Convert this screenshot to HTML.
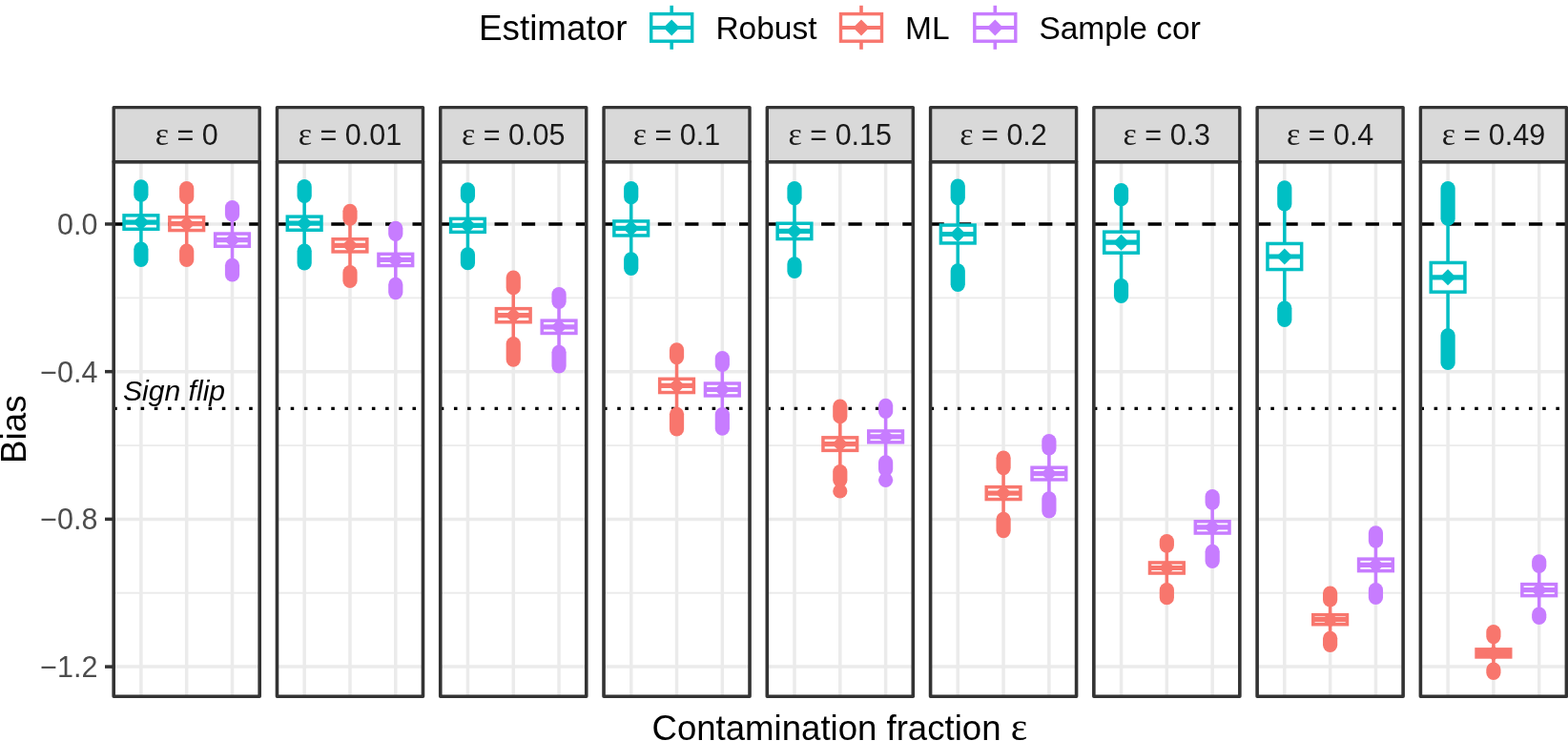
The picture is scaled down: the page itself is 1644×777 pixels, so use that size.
<!DOCTYPE html><html><head><meta charset="utf-8"><title>Bias by contamination fraction</title>
<style>html,body{margin:0;padding:0;background:#fff;}body{width:1644px;height:777px;overflow:hidden;}svg{display:block;}.sans{font-family:"Liberation Sans",Arial,sans-serif;}.serif{font-family:"Liberation Serif","Times New Roman",serif;}</style></head><body>
<svg width="1644" height="777" viewBox="0 0 1644 777">
<rect x="0" y="0" width="1644" height="777" fill="#fff"/>
<g><rect x="119.2" y="169.6" width="153" height="560.7" fill="#fff"/><line x1="119.2" x2="272.2" y1="312.31" y2="312.31" stroke="#EBEBEB" stroke-width="1.8"/><line x1="119.2" x2="272.2" y1="467.03" y2="467.03" stroke="#EBEBEB" stroke-width="1.8"/><line x1="119.2" x2="272.2" y1="621.75" y2="621.75" stroke="#EBEBEB" stroke-width="1.8"/><line x1="119.2" x2="272.2" y1="234.95" y2="234.95" stroke="#EBEBEB" stroke-width="3.5"/><line x1="119.2" x2="272.2" y1="389.67" y2="389.67" stroke="#EBEBEB" stroke-width="3.5"/><line x1="119.2" x2="272.2" y1="544.39" y2="544.39" stroke="#EBEBEB" stroke-width="3.5"/><line x1="119.2" x2="272.2" y1="699.11" y2="699.11" stroke="#EBEBEB" stroke-width="3.5"/><line x1="147.89" x2="147.89" y1="169.6" y2="730.3" stroke="#EBEBEB" stroke-width="3.5"/><line x1="195.7" x2="195.7" y1="169.6" y2="730.3" stroke="#EBEBEB" stroke-width="3.5"/><line x1="243.51" x2="243.51" y1="169.6" y2="730.3" stroke="#EBEBEB" stroke-width="3.5"/><line x1="119.2" x2="272.2" y1="234.95" y2="234.95" stroke="#000" stroke-width="3.55" stroke-dasharray="14.2 14.2"/><line x1="119.2" x2="272.2" y1="428.35" y2="428.35" stroke="#000" stroke-width="3.1" stroke-dasharray="3.55 10.65"/><text x="129" y="420" class="sans" font-style="italic" font-size="30.1" fill="#000">Sign flip</text><line x1="147.89" x2="147.89" y1="204.2" y2="225.85" stroke="#00BFC4" stroke-width="3.5"/><line x1="147.89" x2="147.89" y1="240.25" y2="261.2" stroke="#00BFC4" stroke-width="3.5"/><line x1="147.89" x2="147.89" y1="195.8" y2="204.2" stroke="#00BFC4" stroke-width="15.2" stroke-linecap="round"/><line x1="147.89" x2="147.89" y1="261.2" y2="272.5" stroke="#00BFC4" stroke-width="15.2" stroke-linecap="round"/><rect x="130.04" y="225.85" width="35.7" height="14.4" fill="#fff" stroke="#00BFC4" stroke-width="3.5"/><line x1="130.04" x2="165.74" y1="233.05" y2="233.05" stroke="#00BFC4" stroke-width="5.2"/><path d="M147.89 224.55L156.39 233.05L147.89 241.55L139.39 233.05Z" fill="#00BFC4"/><line x1="195.7" x2="195.7" y1="206.7" y2="227.75" stroke="#F8766D" stroke-width="3.5"/><line x1="195.7" x2="195.7" y1="241.55" y2="263" stroke="#F8766D" stroke-width="3.5"/><line x1="195.7" x2="195.7" y1="197.6" y2="206.7" stroke="#F8766D" stroke-width="15.2" stroke-linecap="round"/><line x1="195.7" x2="195.7" y1="263" y2="272.5" stroke="#F8766D" stroke-width="15.2" stroke-linecap="round"/><rect x="177.85" y="227.75" width="35.7" height="13.8" fill="#fff" stroke="#F8766D" stroke-width="3.5"/><line x1="177.85" x2="213.55" y1="234.65" y2="234.65" stroke="#F8766D" stroke-width="5.2"/><path d="M195.7 226.15L204.2 234.65L195.7 243.15L187.2 234.65Z" fill="#F8766D"/><line x1="243.51" x2="243.51" y1="224.9" y2="245.05" stroke="#C77CFF" stroke-width="3.5"/><line x1="243.51" x2="243.51" y1="258.25" y2="278.4" stroke="#C77CFF" stroke-width="3.5"/><line x1="243.51" x2="243.51" y1="217.7" y2="224.9" stroke="#C77CFF" stroke-width="15.2" stroke-linecap="round"/><line x1="243.51" x2="243.51" y1="278.4" y2="287.9" stroke="#C77CFF" stroke-width="15.2" stroke-linecap="round"/><rect x="225.66" y="245.05" width="35.7" height="13.2" fill="#fff" stroke="#C77CFF" stroke-width="3.5"/><line x1="225.66" x2="261.36" y1="251.65" y2="251.65" stroke="#C77CFF" stroke-width="5.2"/><path d="M243.51 243.15L252.01 251.65L243.51 260.15L235.01 251.65Z" fill="#C77CFF"/><rect x="119.2" y="169.6" width="153" height="560.7" fill="none" stroke="#333333" stroke-width="3.6" stroke-linejoin="round"/><rect x="119.2" y="112.6" width="153" height="57" fill="#D9D9D9" stroke="#333333" stroke-width="3.4" stroke-linejoin="round"/><text x="195.7" y="151.8" text-anchor="middle" font-size="30.5" fill="#1A1A1A" class="sans"><tspan class="serif" font-size="34">ε</tspan> = 0</text></g>
<g><rect x="290.48" y="169.6" width="153" height="560.7" fill="#fff"/><line x1="290.48" x2="443.48" y1="312.31" y2="312.31" stroke="#EBEBEB" stroke-width="1.8"/><line x1="290.48" x2="443.48" y1="467.03" y2="467.03" stroke="#EBEBEB" stroke-width="1.8"/><line x1="290.48" x2="443.48" y1="621.75" y2="621.75" stroke="#EBEBEB" stroke-width="1.8"/><line x1="290.48" x2="443.48" y1="234.95" y2="234.95" stroke="#EBEBEB" stroke-width="3.5"/><line x1="290.48" x2="443.48" y1="389.67" y2="389.67" stroke="#EBEBEB" stroke-width="3.5"/><line x1="290.48" x2="443.48" y1="544.39" y2="544.39" stroke="#EBEBEB" stroke-width="3.5"/><line x1="290.48" x2="443.48" y1="699.11" y2="699.11" stroke="#EBEBEB" stroke-width="3.5"/><line x1="319.16" x2="319.16" y1="169.6" y2="730.3" stroke="#EBEBEB" stroke-width="3.5"/><line x1="366.98" x2="366.98" y1="169.6" y2="730.3" stroke="#EBEBEB" stroke-width="3.5"/><line x1="414.79" x2="414.79" y1="169.6" y2="730.3" stroke="#EBEBEB" stroke-width="3.5"/><line x1="290.48" x2="443.48" y1="234.95" y2="234.95" stroke="#000" stroke-width="3.55" stroke-dasharray="14.2 14.2"/><line x1="290.48" x2="443.48" y1="428.35" y2="428.35" stroke="#000" stroke-width="3.1" stroke-dasharray="3.55 10.65"/><line x1="319.16" x2="319.16" y1="205.4" y2="227.15" stroke="#00BFC4" stroke-width="3.5"/><line x1="319.16" x2="319.16" y1="241.25" y2="263.2" stroke="#00BFC4" stroke-width="3.5"/><line x1="319.16" x2="319.16" y1="195.7" y2="205.4" stroke="#00BFC4" stroke-width="15.2" stroke-linecap="round"/><line x1="319.16" x2="319.16" y1="263.2" y2="275.9" stroke="#00BFC4" stroke-width="15.2" stroke-linecap="round"/><rect x="301.31" y="227.15" width="35.7" height="14.1" fill="#fff" stroke="#00BFC4" stroke-width="3.5"/><line x1="301.31" x2="337.01" y1="234.2" y2="234.2" stroke="#00BFC4" stroke-width="5.2"/><path d="M319.16 225.7L327.66 234.2L319.16 242.7L310.66 234.2Z" fill="#00BFC4"/><line x1="366.98" x2="366.98" y1="229.1" y2="250.75" stroke="#F8766D" stroke-width="3.5"/><line x1="366.98" x2="366.98" y1="263.95" y2="285.7" stroke="#F8766D" stroke-width="3.5"/><line x1="366.98" x2="366.98" y1="221.3" y2="229.1" stroke="#F8766D" stroke-width="15.2" stroke-linecap="round"/><line x1="366.98" x2="366.98" y1="285.7" y2="294.5" stroke="#F8766D" stroke-width="15.2" stroke-linecap="round"/><rect x="349.12" y="250.75" width="35.7" height="13.2" fill="#fff" stroke="#F8766D" stroke-width="3.5"/><line x1="349.12" x2="384.83" y1="257.35" y2="257.35" stroke="#F8766D" stroke-width="5.2"/><path d="M366.98 248.85L375.48 257.35L366.98 265.85L358.48 257.35Z" fill="#F8766D"/><line x1="414.79" x2="414.79" y1="245.3" y2="266.35" stroke="#C77CFF" stroke-width="3.5"/><line x1="414.79" x2="414.79" y1="278.55" y2="298.4" stroke="#C77CFF" stroke-width="3.5"/><line x1="414.79" x2="414.79" y1="239.3" y2="245.3" stroke="#C77CFF" stroke-width="15.2" stroke-linecap="round"/><line x1="414.79" x2="414.79" y1="298.4" y2="306.6" stroke="#C77CFF" stroke-width="15.2" stroke-linecap="round"/><rect x="396.94" y="266.35" width="35.7" height="12.2" fill="#fff" stroke="#C77CFF" stroke-width="3.5"/><line x1="396.94" x2="432.64" y1="272.45" y2="272.45" stroke="#C77CFF" stroke-width="5.2"/><path d="M414.79 263.95L423.29 272.45L414.79 280.95L406.29 272.45Z" fill="#C77CFF"/><rect x="290.48" y="169.6" width="153" height="560.7" fill="none" stroke="#333333" stroke-width="3.6" stroke-linejoin="round"/><rect x="290.48" y="112.6" width="153" height="57" fill="#D9D9D9" stroke="#333333" stroke-width="3.4" stroke-linejoin="round"/><text x="366.98" y="151.8" text-anchor="middle" font-size="30.5" fill="#1A1A1A" class="sans"><tspan class="serif" font-size="34">ε</tspan> = 0.01</text></g>
<g><rect x="461.75" y="169.6" width="153" height="560.7" fill="#fff"/><line x1="461.75" x2="614.75" y1="312.31" y2="312.31" stroke="#EBEBEB" stroke-width="1.8"/><line x1="461.75" x2="614.75" y1="467.03" y2="467.03" stroke="#EBEBEB" stroke-width="1.8"/><line x1="461.75" x2="614.75" y1="621.75" y2="621.75" stroke="#EBEBEB" stroke-width="1.8"/><line x1="461.75" x2="614.75" y1="234.95" y2="234.95" stroke="#EBEBEB" stroke-width="3.5"/><line x1="461.75" x2="614.75" y1="389.67" y2="389.67" stroke="#EBEBEB" stroke-width="3.5"/><line x1="461.75" x2="614.75" y1="544.39" y2="544.39" stroke="#EBEBEB" stroke-width="3.5"/><line x1="461.75" x2="614.75" y1="699.11" y2="699.11" stroke="#EBEBEB" stroke-width="3.5"/><line x1="490.44" x2="490.44" y1="169.6" y2="730.3" stroke="#EBEBEB" stroke-width="3.5"/><line x1="538.25" x2="538.25" y1="169.6" y2="730.3" stroke="#EBEBEB" stroke-width="3.5"/><line x1="586.06" x2="586.06" y1="169.6" y2="730.3" stroke="#EBEBEB" stroke-width="3.5"/><line x1="461.75" x2="614.75" y1="234.95" y2="234.95" stroke="#000" stroke-width="3.55" stroke-dasharray="14.2 14.2"/><line x1="461.75" x2="614.75" y1="428.35" y2="428.35" stroke="#000" stroke-width="3.1" stroke-dasharray="3.55 10.65"/><line x1="490.44" x2="490.44" y1="205.8" y2="229.35" stroke="#00BFC4" stroke-width="3.5"/><line x1="490.44" x2="490.44" y1="243.35" y2="266.9" stroke="#00BFC4" stroke-width="3.5"/><line x1="490.44" x2="490.44" y1="198.9" y2="205.8" stroke="#00BFC4" stroke-width="15.2" stroke-linecap="round"/><line x1="490.44" x2="490.44" y1="266.9" y2="275.7" stroke="#00BFC4" stroke-width="15.2" stroke-linecap="round"/><rect x="472.59" y="229.35" width="35.7" height="14" fill="#fff" stroke="#00BFC4" stroke-width="3.5"/><line x1="472.59" x2="508.29" y1="236.35" y2="236.35" stroke="#00BFC4" stroke-width="5.2"/><path d="M490.44 227.85L498.94 236.35L490.44 244.85L481.94 236.35Z" fill="#00BFC4"/><line x1="538.25" x2="538.25" y1="301.7" y2="323.65" stroke="#F8766D" stroke-width="3.5"/><line x1="538.25" x2="538.25" y1="337.75" y2="360.5" stroke="#F8766D" stroke-width="3.5"/><line x1="538.25" x2="538.25" y1="291" y2="301.7" stroke="#F8766D" stroke-width="15.2" stroke-linecap="round"/><line x1="538.25" x2="538.25" y1="360.5" y2="377.1" stroke="#F8766D" stroke-width="15.2" stroke-linecap="round"/><rect x="520.4" y="323.65" width="35.7" height="14.1" fill="#fff" stroke="#F8766D" stroke-width="3.5"/><line x1="520.4" x2="556.1" y1="330.7" y2="330.7" stroke="#F8766D" stroke-width="5.2"/><path d="M538.25 322.2L546.75 330.7L538.25 339.2L529.75 330.7Z" fill="#F8766D"/><line x1="586.06" x2="586.06" y1="316.3" y2="336.15" stroke="#C77CFF" stroke-width="3.5"/><line x1="586.06" x2="586.06" y1="349.45" y2="369.3" stroke="#C77CFF" stroke-width="3.5"/><line x1="586.06" x2="586.06" y1="308.6" y2="316.3" stroke="#C77CFF" stroke-width="15.2" stroke-linecap="round"/><line x1="586.06" x2="586.06" y1="369.3" y2="383.8" stroke="#C77CFF" stroke-width="15.2" stroke-linecap="round"/><rect x="568.21" y="336.15" width="35.7" height="13.3" fill="#fff" stroke="#C77CFF" stroke-width="3.5"/><line x1="568.21" x2="603.91" y1="342.8" y2="342.8" stroke="#C77CFF" stroke-width="5.2"/><path d="M586.06 334.3L594.56 342.8L586.06 351.3L577.56 342.8Z" fill="#C77CFF"/><rect x="461.75" y="169.6" width="153" height="560.7" fill="none" stroke="#333333" stroke-width="3.6" stroke-linejoin="round"/><rect x="461.75" y="112.6" width="153" height="57" fill="#D9D9D9" stroke="#333333" stroke-width="3.4" stroke-linejoin="round"/><text x="538.25" y="151.8" text-anchor="middle" font-size="30.5" fill="#1A1A1A" class="sans"><tspan class="serif" font-size="34">ε</tspan> = 0.05</text></g>
<g><rect x="633.03" y="169.6" width="153" height="560.7" fill="#fff"/><line x1="633.03" x2="786.03" y1="312.31" y2="312.31" stroke="#EBEBEB" stroke-width="1.8"/><line x1="633.03" x2="786.03" y1="467.03" y2="467.03" stroke="#EBEBEB" stroke-width="1.8"/><line x1="633.03" x2="786.03" y1="621.75" y2="621.75" stroke="#EBEBEB" stroke-width="1.8"/><line x1="633.03" x2="786.03" y1="234.95" y2="234.95" stroke="#EBEBEB" stroke-width="3.5"/><line x1="633.03" x2="786.03" y1="389.67" y2="389.67" stroke="#EBEBEB" stroke-width="3.5"/><line x1="633.03" x2="786.03" y1="544.39" y2="544.39" stroke="#EBEBEB" stroke-width="3.5"/><line x1="633.03" x2="786.03" y1="699.11" y2="699.11" stroke="#EBEBEB" stroke-width="3.5"/><line x1="661.71" x2="661.71" y1="169.6" y2="730.3" stroke="#EBEBEB" stroke-width="3.5"/><line x1="709.53" x2="709.53" y1="169.6" y2="730.3" stroke="#EBEBEB" stroke-width="3.5"/><line x1="757.34" x2="757.34" y1="169.6" y2="730.3" stroke="#EBEBEB" stroke-width="3.5"/><line x1="633.03" x2="786.03" y1="234.95" y2="234.95" stroke="#000" stroke-width="3.55" stroke-dasharray="14.2 14.2"/><line x1="633.03" x2="786.03" y1="428.35" y2="428.35" stroke="#000" stroke-width="3.1" stroke-dasharray="3.55 10.65"/><line x1="661.71" x2="661.71" y1="206.7" y2="231.95" stroke="#00BFC4" stroke-width="3.5"/><line x1="661.71" x2="661.71" y1="246.95" y2="271.8" stroke="#00BFC4" stroke-width="3.5"/><line x1="661.71" x2="661.71" y1="197.6" y2="206.7" stroke="#00BFC4" stroke-width="15.2" stroke-linecap="round"/><line x1="661.71" x2="661.71" y1="271.8" y2="281.3" stroke="#00BFC4" stroke-width="15.2" stroke-linecap="round"/><rect x="643.86" y="231.95" width="35.7" height="15" fill="#fff" stroke="#00BFC4" stroke-width="3.5"/><line x1="643.86" x2="679.56" y1="239.45" y2="239.45" stroke="#00BFC4" stroke-width="5.2"/><path d="M661.71 230.95L670.21 239.45L661.71 247.95L653.21 239.45Z" fill="#00BFC4"/><line x1="709.53" x2="709.53" y1="374.6" y2="397.35" stroke="#F8766D" stroke-width="3.5"/><line x1="709.53" x2="709.53" y1="411.55" y2="434.3" stroke="#F8766D" stroke-width="3.5"/><line x1="709.53" x2="709.53" y1="366.9" y2="374.6" stroke="#F8766D" stroke-width="15.2" stroke-linecap="round"/><line x1="709.53" x2="709.53" y1="434.3" y2="449.9" stroke="#F8766D" stroke-width="15.2" stroke-linecap="round"/><rect x="691.68" y="397.35" width="35.7" height="14.2" fill="#fff" stroke="#F8766D" stroke-width="3.5"/><line x1="691.68" x2="727.38" y1="404.45" y2="404.45" stroke="#F8766D" stroke-width="5.2"/><path d="M709.53 395.95L718.03 404.45L709.53 412.95L701.03 404.45Z" fill="#F8766D"/><line x1="757.34" x2="757.34" y1="382.3" y2="402.05" stroke="#C77CFF" stroke-width="3.5"/><line x1="757.34" x2="757.34" y1="414.95" y2="434.6" stroke="#C77CFF" stroke-width="3.5"/><line x1="757.34" x2="757.34" y1="375.7" y2="382.3" stroke="#C77CFF" stroke-width="15.2" stroke-linecap="round"/><line x1="757.34" x2="757.34" y1="434.6" y2="449.2" stroke="#C77CFF" stroke-width="15.2" stroke-linecap="round"/><rect x="739.49" y="402.05" width="35.7" height="12.9" fill="#fff" stroke="#C77CFF" stroke-width="3.5"/><line x1="739.49" x2="775.19" y1="408.5" y2="408.5" stroke="#C77CFF" stroke-width="5.2"/><path d="M757.34 400L765.84 408.5L757.34 417L748.84 408.5Z" fill="#C77CFF"/><rect x="633.03" y="169.6" width="153" height="560.7" fill="none" stroke="#333333" stroke-width="3.6" stroke-linejoin="round"/><rect x="633.03" y="112.6" width="153" height="57" fill="#D9D9D9" stroke="#333333" stroke-width="3.4" stroke-linejoin="round"/><text x="709.53" y="151.8" text-anchor="middle" font-size="30.5" fill="#1A1A1A" class="sans"><tspan class="serif" font-size="34">ε</tspan> = 0.1</text></g>
<g><rect x="804.3" y="169.6" width="153" height="560.7" fill="#fff"/><line x1="804.3" x2="957.3" y1="312.31" y2="312.31" stroke="#EBEBEB" stroke-width="1.8"/><line x1="804.3" x2="957.3" y1="467.03" y2="467.03" stroke="#EBEBEB" stroke-width="1.8"/><line x1="804.3" x2="957.3" y1="621.75" y2="621.75" stroke="#EBEBEB" stroke-width="1.8"/><line x1="804.3" x2="957.3" y1="234.95" y2="234.95" stroke="#EBEBEB" stroke-width="3.5"/><line x1="804.3" x2="957.3" y1="389.67" y2="389.67" stroke="#EBEBEB" stroke-width="3.5"/><line x1="804.3" x2="957.3" y1="544.39" y2="544.39" stroke="#EBEBEB" stroke-width="3.5"/><line x1="804.3" x2="957.3" y1="699.11" y2="699.11" stroke="#EBEBEB" stroke-width="3.5"/><line x1="832.99" x2="832.99" y1="169.6" y2="730.3" stroke="#EBEBEB" stroke-width="3.5"/><line x1="880.8" x2="880.8" y1="169.6" y2="730.3" stroke="#EBEBEB" stroke-width="3.5"/><line x1="928.61" x2="928.61" y1="169.6" y2="730.3" stroke="#EBEBEB" stroke-width="3.5"/><line x1="804.3" x2="957.3" y1="234.95" y2="234.95" stroke="#000" stroke-width="3.55" stroke-dasharray="14.2 14.2"/><line x1="804.3" x2="957.3" y1="428.35" y2="428.35" stroke="#000" stroke-width="3.1" stroke-dasharray="3.55 10.65"/><line x1="832.99" x2="832.99" y1="207.6" y2="234.25" stroke="#00BFC4" stroke-width="3.5"/><line x1="832.99" x2="832.99" y1="250.55" y2="276.9" stroke="#00BFC4" stroke-width="3.5"/><line x1="832.99" x2="832.99" y1="197.6" y2="207.6" stroke="#00BFC4" stroke-width="15.2" stroke-linecap="round"/><line x1="832.99" x2="832.99" y1="276.9" y2="284.4" stroke="#00BFC4" stroke-width="15.2" stroke-linecap="round"/><rect x="815.14" y="234.25" width="35.7" height="16.3" fill="#fff" stroke="#00BFC4" stroke-width="3.5"/><line x1="815.14" x2="850.84" y1="242.4" y2="242.4" stroke="#00BFC4" stroke-width="5.2"/><path d="M832.99 233.9L841.49 242.4L832.99 250.9L824.49 242.4Z" fill="#00BFC4"/><line x1="880.8" x2="880.8" y1="436.7" y2="458.85" stroke="#F8766D" stroke-width="3.5"/><line x1="880.8" x2="880.8" y1="472.35" y2="494.5" stroke="#F8766D" stroke-width="3.5"/><line x1="880.8" x2="880.8" y1="426.1" y2="436.7" stroke="#F8766D" stroke-width="15.2" stroke-linecap="round"/><line x1="880.8" x2="880.8" y1="494.5" y2="503.4" stroke="#F8766D" stroke-width="15.2" stroke-linecap="round"/><circle cx="880.8" cy="515" r="7.6" fill="#F8766D"/><rect x="862.95" y="458.85" width="35.7" height="13.5" fill="#fff" stroke="#F8766D" stroke-width="3.5"/><line x1="862.95" x2="898.65" y1="465.6" y2="465.6" stroke="#F8766D" stroke-width="5.2"/><path d="M880.8 457.1L889.3 465.6L880.8 474.1L872.3 465.6Z" fill="#F8766D"/><line x1="928.61" x2="928.61" y1="431.4" y2="451.95" stroke="#C77CFF" stroke-width="3.5"/><line x1="928.61" x2="928.61" y1="463.85" y2="484.8" stroke="#C77CFF" stroke-width="3.5"/><line x1="928.61" x2="928.61" y1="425.3" y2="431.4" stroke="#C77CFF" stroke-width="15.2" stroke-linecap="round"/><line x1="928.61" x2="928.61" y1="484.8" y2="491.9" stroke="#C77CFF" stroke-width="15.2" stroke-linecap="round"/><circle cx="928.61" cy="503.3" r="7.6" fill="#C77CFF"/><rect x="910.76" y="451.95" width="35.7" height="11.9" fill="#fff" stroke="#C77CFF" stroke-width="3.5"/><line x1="910.76" x2="946.46" y1="457.9" y2="457.9" stroke="#C77CFF" stroke-width="5.2"/><path d="M928.61 449.4L937.11 457.9L928.61 466.4L920.11 457.9Z" fill="#C77CFF"/><rect x="804.3" y="169.6" width="153" height="560.7" fill="none" stroke="#333333" stroke-width="3.6" stroke-linejoin="round"/><rect x="804.3" y="112.6" width="153" height="57" fill="#D9D9D9" stroke="#333333" stroke-width="3.4" stroke-linejoin="round"/><text x="880.8" y="151.8" text-anchor="middle" font-size="30.5" fill="#1A1A1A" class="sans"><tspan class="serif" font-size="34">ε</tspan> = 0.15</text></g>
<g><rect x="975.58" y="169.6" width="153" height="560.7" fill="#fff"/><line x1="975.58" x2="1128.58" y1="312.31" y2="312.31" stroke="#EBEBEB" stroke-width="1.8"/><line x1="975.58" x2="1128.58" y1="467.03" y2="467.03" stroke="#EBEBEB" stroke-width="1.8"/><line x1="975.58" x2="1128.58" y1="621.75" y2="621.75" stroke="#EBEBEB" stroke-width="1.8"/><line x1="975.58" x2="1128.58" y1="234.95" y2="234.95" stroke="#EBEBEB" stroke-width="3.5"/><line x1="975.58" x2="1128.58" y1="389.67" y2="389.67" stroke="#EBEBEB" stroke-width="3.5"/><line x1="975.58" x2="1128.58" y1="544.39" y2="544.39" stroke="#EBEBEB" stroke-width="3.5"/><line x1="975.58" x2="1128.58" y1="699.11" y2="699.11" stroke="#EBEBEB" stroke-width="3.5"/><line x1="1004.26" x2="1004.26" y1="169.6" y2="730.3" stroke="#EBEBEB" stroke-width="3.5"/><line x1="1052.08" x2="1052.08" y1="169.6" y2="730.3" stroke="#EBEBEB" stroke-width="3.5"/><line x1="1099.89" x2="1099.89" y1="169.6" y2="730.3" stroke="#EBEBEB" stroke-width="3.5"/><line x1="975.58" x2="1128.58" y1="234.95" y2="234.95" stroke="#000" stroke-width="3.55" stroke-dasharray="14.2 14.2"/><line x1="975.58" x2="1128.58" y1="428.35" y2="428.35" stroke="#000" stroke-width="3.1" stroke-dasharray="3.55 10.65"/><line x1="1004.26" x2="1004.26" y1="207.6" y2="236.05" stroke="#00BFC4" stroke-width="3.5"/><line x1="1004.26" x2="1004.26" y1="254.95" y2="283.9" stroke="#00BFC4" stroke-width="3.5"/><line x1="1004.26" x2="1004.26" y1="195.1" y2="207.6" stroke="#00BFC4" stroke-width="15.2" stroke-linecap="round"/><line x1="1004.26" x2="1004.26" y1="283.9" y2="298.3" stroke="#00BFC4" stroke-width="15.2" stroke-linecap="round"/><rect x="986.41" y="236.05" width="35.7" height="18.9" fill="#fff" stroke="#00BFC4" stroke-width="3.5"/><line x1="986.41" x2="1022.11" y1="245.5" y2="245.5" stroke="#00BFC4" stroke-width="5.2"/><path d="M1004.26 237L1012.76 245.5L1004.26 254L995.76 245.5Z" fill="#00BFC4"/><line x1="1052.08" x2="1052.08" y1="490.6" y2="510.65" stroke="#F8766D" stroke-width="3.5"/><line x1="1052.08" x2="1052.08" y1="523.55" y2="544.3" stroke="#F8766D" stroke-width="3.5"/><line x1="1052.08" x2="1052.08" y1="480.2" y2="490.6" stroke="#F8766D" stroke-width="15.2" stroke-linecap="round"/><line x1="1052.08" x2="1052.08" y1="544.3" y2="556.6" stroke="#F8766D" stroke-width="15.2" stroke-linecap="round"/><rect x="1034.23" y="510.65" width="35.7" height="12.9" fill="#fff" stroke="#F8766D" stroke-width="3.5"/><line x1="1034.23" x2="1069.92" y1="517.1" y2="517.1" stroke="#F8766D" stroke-width="5.2"/><path d="M1052.08 508.6L1060.58 517.1L1052.08 525.6L1043.58 517.1Z" fill="#F8766D"/><line x1="1099.89" x2="1099.89" y1="470" y2="490.25" stroke="#C77CFF" stroke-width="3.5"/><line x1="1099.89" x2="1099.89" y1="502.95" y2="522.9" stroke="#C77CFF" stroke-width="3.5"/><line x1="1099.89" x2="1099.89" y1="462.6" y2="470" stroke="#C77CFF" stroke-width="15.2" stroke-linecap="round"/><line x1="1099.89" x2="1099.89" y1="522.9" y2="535.8" stroke="#C77CFF" stroke-width="15.2" stroke-linecap="round"/><rect x="1082.04" y="490.25" width="35.7" height="12.7" fill="#fff" stroke="#C77CFF" stroke-width="3.5"/><line x1="1082.04" x2="1117.74" y1="496.6" y2="496.6" stroke="#C77CFF" stroke-width="5.2"/><path d="M1099.89 488.1L1108.39 496.6L1099.89 505.1L1091.39 496.6Z" fill="#C77CFF"/><rect x="975.58" y="169.6" width="153" height="560.7" fill="none" stroke="#333333" stroke-width="3.6" stroke-linejoin="round"/><rect x="975.58" y="112.6" width="153" height="57" fill="#D9D9D9" stroke="#333333" stroke-width="3.4" stroke-linejoin="round"/><text x="1052.08" y="151.8" text-anchor="middle" font-size="30.5" fill="#1A1A1A" class="sans"><tspan class="serif" font-size="34">ε</tspan> = 0.2</text></g>
<g><rect x="1146.85" y="169.6" width="153" height="560.7" fill="#fff"/><line x1="1146.85" x2="1299.85" y1="312.31" y2="312.31" stroke="#EBEBEB" stroke-width="1.8"/><line x1="1146.85" x2="1299.85" y1="467.03" y2="467.03" stroke="#EBEBEB" stroke-width="1.8"/><line x1="1146.85" x2="1299.85" y1="621.75" y2="621.75" stroke="#EBEBEB" stroke-width="1.8"/><line x1="1146.85" x2="1299.85" y1="234.95" y2="234.95" stroke="#EBEBEB" stroke-width="3.5"/><line x1="1146.85" x2="1299.85" y1="389.67" y2="389.67" stroke="#EBEBEB" stroke-width="3.5"/><line x1="1146.85" x2="1299.85" y1="544.39" y2="544.39" stroke="#EBEBEB" stroke-width="3.5"/><line x1="1146.85" x2="1299.85" y1="699.11" y2="699.11" stroke="#EBEBEB" stroke-width="3.5"/><line x1="1175.54" x2="1175.54" y1="169.6" y2="730.3" stroke="#EBEBEB" stroke-width="3.5"/><line x1="1223.35" x2="1223.35" y1="169.6" y2="730.3" stroke="#EBEBEB" stroke-width="3.5"/><line x1="1271.16" x2="1271.16" y1="169.6" y2="730.3" stroke="#EBEBEB" stroke-width="3.5"/><line x1="1146.85" x2="1299.85" y1="234.95" y2="234.95" stroke="#000" stroke-width="3.55" stroke-dasharray="14.2 14.2"/><line x1="1146.85" x2="1299.85" y1="428.35" y2="428.35" stroke="#000" stroke-width="3.1" stroke-dasharray="3.55 10.65"/><line x1="1175.54" x2="1175.54" y1="208.7" y2="243.15" stroke="#00BFC4" stroke-width="3.5"/><line x1="1175.54" x2="1175.54" y1="265.15" y2="299.6" stroke="#00BFC4" stroke-width="3.5"/><line x1="1175.54" x2="1175.54" y1="199.6" y2="208.7" stroke="#00BFC4" stroke-width="15.2" stroke-linecap="round"/><line x1="1175.54" x2="1175.54" y1="299.6" y2="310.5" stroke="#00BFC4" stroke-width="15.2" stroke-linecap="round"/><rect x="1157.69" y="243.15" width="35.7" height="22" fill="#fff" stroke="#00BFC4" stroke-width="3.5"/><line x1="1157.69" x2="1193.39" y1="254.15" y2="254.15" stroke="#00BFC4" stroke-width="5.2"/><path d="M1175.54 245.65L1184.04 254.15L1175.54 262.65L1167.04 254.15Z" fill="#00BFC4"/><line x1="1223.35" x2="1223.35" y1="572.1" y2="589.95" stroke="#F8766D" stroke-width="3.5"/><line x1="1223.35" x2="1223.35" y1="601.05" y2="618.5" stroke="#F8766D" stroke-width="3.5"/><line x1="1223.35" x2="1223.35" y1="567.5" y2="572.1" stroke="#F8766D" stroke-width="15.2" stroke-linecap="round"/><line x1="1223.35" x2="1223.35" y1="618.5" y2="626.7" stroke="#F8766D" stroke-width="15.2" stroke-linecap="round"/><rect x="1205.5" y="589.95" width="35.7" height="11.1" fill="#fff" stroke="#F8766D" stroke-width="3.5"/><line x1="1205.5" x2="1241.2" y1="595.5" y2="595.5" stroke="#F8766D" stroke-width="5.2"/><path d="M1223.35 587L1231.85 595.5L1223.35 604L1214.85 595.5Z" fill="#F8766D"/><line x1="1271.16" x2="1271.16" y1="527.1" y2="546.75" stroke="#C77CFF" stroke-width="3.5"/><line x1="1271.16" x2="1271.16" y1="559.05" y2="578.3" stroke="#C77CFF" stroke-width="3.5"/><line x1="1271.16" x2="1271.16" y1="520.7" y2="527.1" stroke="#C77CFF" stroke-width="15.2" stroke-linecap="round"/><line x1="1271.16" x2="1271.16" y1="578.3" y2="588.3" stroke="#C77CFF" stroke-width="15.2" stroke-linecap="round"/><rect x="1253.31" y="546.75" width="35.7" height="12.3" fill="#fff" stroke="#C77CFF" stroke-width="3.5"/><line x1="1253.31" x2="1289.01" y1="552.9" y2="552.9" stroke="#C77CFF" stroke-width="5.2"/><path d="M1271.16 544.4L1279.66 552.9L1271.16 561.4L1262.66 552.9Z" fill="#C77CFF"/><rect x="1146.85" y="169.6" width="153" height="560.7" fill="none" stroke="#333333" stroke-width="3.6" stroke-linejoin="round"/><rect x="1146.85" y="112.6" width="153" height="57" fill="#D9D9D9" stroke="#333333" stroke-width="3.4" stroke-linejoin="round"/><text x="1223.35" y="151.8" text-anchor="middle" font-size="30.5" fill="#1A1A1A" class="sans"><tspan class="serif" font-size="34">ε</tspan> = 0.3</text></g>
<g><rect x="1318.12" y="169.6" width="153" height="560.7" fill="#fff"/><line x1="1318.12" x2="1471.12" y1="312.31" y2="312.31" stroke="#EBEBEB" stroke-width="1.8"/><line x1="1318.12" x2="1471.12" y1="467.03" y2="467.03" stroke="#EBEBEB" stroke-width="1.8"/><line x1="1318.12" x2="1471.12" y1="621.75" y2="621.75" stroke="#EBEBEB" stroke-width="1.8"/><line x1="1318.12" x2="1471.12" y1="234.95" y2="234.95" stroke="#EBEBEB" stroke-width="3.5"/><line x1="1318.12" x2="1471.12" y1="389.67" y2="389.67" stroke="#EBEBEB" stroke-width="3.5"/><line x1="1318.12" x2="1471.12" y1="544.39" y2="544.39" stroke="#EBEBEB" stroke-width="3.5"/><line x1="1318.12" x2="1471.12" y1="699.11" y2="699.11" stroke="#EBEBEB" stroke-width="3.5"/><line x1="1346.81" x2="1346.81" y1="169.6" y2="730.3" stroke="#EBEBEB" stroke-width="3.5"/><line x1="1394.62" x2="1394.62" y1="169.6" y2="730.3" stroke="#EBEBEB" stroke-width="3.5"/><line x1="1442.44" x2="1442.44" y1="169.6" y2="730.3" stroke="#EBEBEB" stroke-width="3.5"/><line x1="1318.12" x2="1471.12" y1="234.95" y2="234.95" stroke="#000" stroke-width="3.55" stroke-dasharray="14.2 14.2"/><line x1="1318.12" x2="1471.12" y1="428.35" y2="428.35" stroke="#000" stroke-width="3.1" stroke-dasharray="3.55 10.65"/><line x1="1346.81" x2="1346.81" y1="214" y2="255.45" stroke="#00BFC4" stroke-width="3.5"/><line x1="1346.81" x2="1346.81" y1="282.55" y2="323.2" stroke="#00BFC4" stroke-width="3.5"/><line x1="1346.81" x2="1346.81" y1="196.8" y2="214" stroke="#00BFC4" stroke-width="15.2" stroke-linecap="round"/><line x1="1346.81" x2="1346.81" y1="323.2" y2="335.4" stroke="#00BFC4" stroke-width="15.2" stroke-linecap="round"/><rect x="1328.96" y="255.45" width="35.7" height="27.1" fill="#fff" stroke="#00BFC4" stroke-width="3.5"/><line x1="1328.96" x2="1364.66" y1="269" y2="269" stroke="#00BFC4" stroke-width="5.2"/><path d="M1346.81 260.5L1355.31 269L1346.81 277.5L1338.31 269Z" fill="#00BFC4"/><line x1="1394.62" x2="1394.62" y1="629" y2="644.65" stroke="#F8766D" stroke-width="3.5"/><line x1="1394.62" x2="1394.62" y1="654.75" y2="669.3" stroke="#F8766D" stroke-width="3.5"/><line x1="1394.62" x2="1394.62" y1="622" y2="629" stroke="#F8766D" stroke-width="15.2" stroke-linecap="round"/><line x1="1394.62" x2="1394.62" y1="669.3" y2="676.3" stroke="#F8766D" stroke-width="15.2" stroke-linecap="round"/><rect x="1376.78" y="644.65" width="35.7" height="10.1" fill="#fff" stroke="#F8766D" stroke-width="3.5"/><line x1="1376.78" x2="1412.47" y1="649.7" y2="649.7" stroke="#F8766D" stroke-width="5.2"/><path d="M1394.62 641.2L1403.12 649.7L1394.62 658.2L1386.12 649.7Z" fill="#F8766D"/><line x1="1442.44" x2="1442.44" y1="567.2" y2="586.15" stroke="#C77CFF" stroke-width="3.5"/><line x1="1442.44" x2="1442.44" y1="598.65" y2="618.7" stroke="#C77CFF" stroke-width="3.5"/><line x1="1442.44" x2="1442.44" y1="558.8" y2="567.2" stroke="#C77CFF" stroke-width="15.2" stroke-linecap="round"/><line x1="1442.44" x2="1442.44" y1="618.7" y2="626.5" stroke="#C77CFF" stroke-width="15.2" stroke-linecap="round"/><rect x="1424.59" y="586.15" width="35.7" height="12.5" fill="#fff" stroke="#C77CFF" stroke-width="3.5"/><line x1="1424.59" x2="1460.29" y1="592.4" y2="592.4" stroke="#C77CFF" stroke-width="5.2"/><path d="M1442.44 583.9L1450.94 592.4L1442.44 600.9L1433.94 592.4Z" fill="#C77CFF"/><rect x="1318.12" y="169.6" width="153" height="560.7" fill="none" stroke="#333333" stroke-width="3.6" stroke-linejoin="round"/><rect x="1318.12" y="112.6" width="153" height="57" fill="#D9D9D9" stroke="#333333" stroke-width="3.4" stroke-linejoin="round"/><text x="1394.62" y="151.8" text-anchor="middle" font-size="30.5" fill="#1A1A1A" class="sans"><tspan class="serif" font-size="34">ε</tspan> = 0.4</text></g>
<g><rect x="1489.4" y="169.6" width="153" height="560.7" fill="#fff"/><line x1="1489.4" x2="1642.4" y1="312.31" y2="312.31" stroke="#EBEBEB" stroke-width="1.8"/><line x1="1489.4" x2="1642.4" y1="467.03" y2="467.03" stroke="#EBEBEB" stroke-width="1.8"/><line x1="1489.4" x2="1642.4" y1="621.75" y2="621.75" stroke="#EBEBEB" stroke-width="1.8"/><line x1="1489.4" x2="1642.4" y1="234.95" y2="234.95" stroke="#EBEBEB" stroke-width="3.5"/><line x1="1489.4" x2="1642.4" y1="389.67" y2="389.67" stroke="#EBEBEB" stroke-width="3.5"/><line x1="1489.4" x2="1642.4" y1="544.39" y2="544.39" stroke="#EBEBEB" stroke-width="3.5"/><line x1="1489.4" x2="1642.4" y1="699.11" y2="699.11" stroke="#EBEBEB" stroke-width="3.5"/><line x1="1518.09" x2="1518.09" y1="169.6" y2="730.3" stroke="#EBEBEB" stroke-width="3.5"/><line x1="1565.9" x2="1565.9" y1="169.6" y2="730.3" stroke="#EBEBEB" stroke-width="3.5"/><line x1="1613.71" x2="1613.71" y1="169.6" y2="730.3" stroke="#EBEBEB" stroke-width="3.5"/><line x1="1489.4" x2="1642.4" y1="234.95" y2="234.95" stroke="#000" stroke-width="3.55" stroke-dasharray="14.2 14.2"/><line x1="1489.4" x2="1642.4" y1="428.35" y2="428.35" stroke="#000" stroke-width="3.1" stroke-dasharray="3.55 10.65"/><line x1="1518.09" x2="1518.09" y1="229.2" y2="275.45" stroke="#00BFC4" stroke-width="3.5"/><line x1="1518.09" x2="1518.09" y1="306.15" y2="351.8" stroke="#00BFC4" stroke-width="3.5"/><line x1="1518.09" x2="1518.09" y1="197.5" y2="229.2" stroke="#00BFC4" stroke-width="15.2" stroke-linecap="round"/><line x1="1518.09" x2="1518.09" y1="351.8" y2="380.5" stroke="#00BFC4" stroke-width="15.2" stroke-linecap="round"/><rect x="1500.24" y="275.45" width="35.7" height="30.7" fill="#fff" stroke="#00BFC4" stroke-width="3.5"/><line x1="1500.24" x2="1535.94" y1="290.8" y2="290.8" stroke="#00BFC4" stroke-width="5.2"/><path d="M1518.09 282.3L1526.59 290.8L1518.09 299.3L1509.59 290.8Z" fill="#00BFC4"/><line x1="1565.9" x2="1565.9" y1="667.6" y2="680.85" stroke="#F8766D" stroke-width="3.5"/><line x1="1565.9" x2="1565.9" y1="688.95" y2="702.1" stroke="#F8766D" stroke-width="3.5"/><line x1="1565.9" x2="1565.9" y1="662.6" y2="667.6" stroke="#F8766D" stroke-width="15.2" stroke-linecap="round"/><line x1="1565.9" x2="1565.9" y1="702.1" y2="705.3" stroke="#F8766D" stroke-width="15.2" stroke-linecap="round"/><rect x="1548.05" y="680.85" width="35.7" height="8.1" fill="#F8766D" stroke="#F8766D" stroke-width="3.5"/><line x1="1548.05" x2="1583.75" y1="684.9" y2="684.9" stroke="#F8766D" stroke-width="5.2"/><path d="M1565.9 676.4L1574.4 684.9L1565.9 693.4L1557.4 684.9Z" fill="#F8766D"/><line x1="1613.71" x2="1613.71" y1="593.3" y2="612.65" stroke="#C77CFF" stroke-width="3.5"/><line x1="1613.71" x2="1613.71" y1="624.65" y2="644.2" stroke="#C77CFF" stroke-width="3.5"/><line x1="1613.71" x2="1613.71" y1="588.8" y2="593.3" stroke="#C77CFF" stroke-width="15.2" stroke-linecap="round"/><line x1="1613.71" x2="1613.71" y1="644.2" y2="647.4" stroke="#C77CFF" stroke-width="15.2" stroke-linecap="round"/><rect x="1595.86" y="612.65" width="35.7" height="12" fill="#fff" stroke="#C77CFF" stroke-width="3.5"/><line x1="1595.86" x2="1631.56" y1="618.65" y2="618.65" stroke="#C77CFF" stroke-width="5.2"/><path d="M1613.71 610.15L1622.21 618.65L1613.71 627.15L1605.21 618.65Z" fill="#C77CFF"/><rect x="1489.4" y="169.6" width="153" height="560.7" fill="none" stroke="#333333" stroke-width="3.6" stroke-linejoin="round"/><rect x="1489.4" y="112.6" width="153" height="57" fill="#D9D9D9" stroke="#333333" stroke-width="3.4" stroke-linejoin="round"/><text x="1565.9" y="151.8" text-anchor="middle" font-size="30.5" fill="#1A1A1A" class="sans"><tspan class="serif" font-size="34">ε</tspan> = 0.49</text></g>
<line x1="110" x2="119.2" y1="234.95" y2="234.95" stroke="#333333" stroke-width="3.5"/>
<text x="102.5" y="245.95" text-anchor="end" font-size="30.5" fill="#4D4D4D" class="sans">0.0</text>
<line x1="110" x2="119.2" y1="389.67" y2="389.67" stroke="#333333" stroke-width="3.5"/>
<text x="102.5" y="400.67" text-anchor="end" font-size="30.5" fill="#4D4D4D" class="sans">−0.4</text>
<line x1="110" x2="119.2" y1="544.39" y2="544.39" stroke="#333333" stroke-width="3.5"/>
<text x="102.5" y="555.39" text-anchor="end" font-size="30.5" fill="#4D4D4D" class="sans">−0.8</text>
<line x1="110" x2="119.2" y1="699.11" y2="699.11" stroke="#333333" stroke-width="3.5"/>
<text x="102.5" y="710.11" text-anchor="end" font-size="30.5" fill="#4D4D4D" class="sans">−1.2</text>
<text transform="translate(27 450.2) rotate(-90)" text-anchor="middle" font-size="36.7" fill="#000" class="sans">Bias</text>
<text x="683.5" y="775.7" font-size="36.6" fill="#000" class="sans">Contamination fraction <tspan class="serif" font-size="41.5">ε</tspan></text>
<text x="502" y="42.3" font-size="36.8" fill="#000" class="sans">Estimator</text>
<line x1="704.2" x2="704.2" y1="5.8" y2="51.8" stroke="#00BFC4" stroke-width="3.6"/>
<rect x="682.7" y="14.6" width="43" height="28.6" fill="#fff" stroke="#00BFC4" stroke-width="3.4"/>
<line x1="682.7" x2="725.7" y1="29" y2="29" stroke="#00BFC4" stroke-width="4"/>
<path d="M704.2 20.5L712.7 29L704.2 37.5L695.7 29Z" fill="#00BFC4"/>
<text x="750.4" y="40.9" font-size="33.5" fill="#000" class="sans">Robust</text>
<line x1="903" x2="903" y1="5.8" y2="51.8" stroke="#F8766D" stroke-width="3.6"/>
<rect x="881.5" y="14.6" width="43" height="28.6" fill="#fff" stroke="#F8766D" stroke-width="3.4"/>
<line x1="881.5" x2="924.5" y1="29" y2="29" stroke="#F8766D" stroke-width="4"/>
<path d="M903 20.5L911.5 29L903 37.5L894.5 29Z" fill="#F8766D"/>
<text x="949" y="40.9" font-size="33.5" fill="#000" class="sans">ML</text>
<line x1="1043.3" x2="1043.3" y1="5.8" y2="51.8" stroke="#C77CFF" stroke-width="3.6"/>
<rect x="1021.8" y="14.6" width="43" height="28.6" fill="#fff" stroke="#C77CFF" stroke-width="3.4"/>
<line x1="1021.8" x2="1064.8" y1="29" y2="29" stroke="#C77CFF" stroke-width="4"/>
<path d="M1043.3 20.5L1051.8 29L1043.3 37.5L1034.8 29Z" fill="#C77CFF"/>
<text x="1089.4" y="40.9" font-size="33.5" fill="#000" class="sans">Sample cor</text>
</svg></body></html>
